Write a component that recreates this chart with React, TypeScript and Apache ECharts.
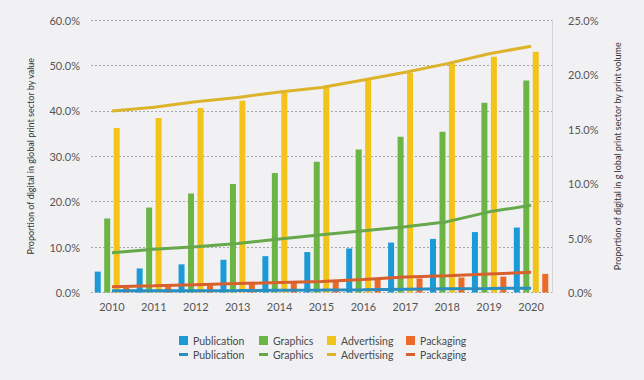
import React, { useEffect, useRef } from "react";
import * as echarts from "echarts";

const years = ["2010", "2011", "2012", "2013", "2014", "2015", "2016", "2017", "2018", "2019", "2020"];

// Share by value (left axis, bars)
const publicationValue = [4.6, 5.3, 6.2, 7.2, 8.0, 8.9, 9.7, 11.0, 11.8, 13.3, 14.3];
const graphicsValue = [16.3, 18.7, 21.8, 23.9, 26.3, 28.8, 31.5, 34.3, 35.4, 41.8, 46.7];
const advertisingValue = [36.2, 38.4, 40.6, 42.2, 44.0, 45.3, 46.8, 48.4, 50.5, 51.9, 53.0];
const packagingValue = [1.1, 1.3, 1.6, 2.0, 2.2, 2.5, 2.8, 3.1, 3.3, 3.5, 4.1];

// Share by print volume (right axis, lines)
const publicationVolume = [0.15, 0.16, 0.17, 0.18, 0.2, 0.22, 0.25, 0.3, 0.35, 0.37, 0.4];
const graphicsVolume = [3.65, 3.96, 4.2, 4.5, 4.9, 5.3, 5.67, 6.04, 6.5, 7.4, 8.0];
const advertisingVolume = [16.65, 17.0, 17.5, 17.9, 18.4, 18.8, 19.5, 20.2, 21.0, 21.9, 22.6];
const packagingVolume = [0.53, 0.62, 0.72, 0.82, 0.92, 1.0, 1.2, 1.42, 1.54, 1.7, 1.85];

const seriesNames = ["Publication", "Graphics", "Advertising", "Packaging"];
const leftAxisName = "Proportion of digital in global print sector by value";
const rightAxisName = "Proportion of digital in g lobal print sector by print volume";

const barColors = ["#1a9ad6", "#6ab545", "#f2c318", "#ea6a2a"];
const lineColors = ["#2a8fc0", "#66a84a", "#dcb32a", "#d8602c"];

const FONT = "Lato";

export default function App() {
  const ref = useRef<HTMLDivElement>(null);
  useEffect(() => {
    if (!ref.current) return;
    const chart = echarts.init(ref.current, undefined, { renderer: "svg" });
    const barData = [publicationValue, graphicsValue, advertisingValue, packagingValue];
    const lineData = [publicationVolume, graphicsVolume, advertisingVolume, packagingVolume];
    const VOL = " (volume)";
    const bars = seriesNames.map((n, i) => ({
      name: n,
      type: "bar",
      yAxisIndex: 0,
      data: barData[i],
      barWidth: 6,
      barGap: "58%",
      itemStyle: { color: barColors[i] },
      z: 2,
    }));
    const lines = seriesNames.map((n, i) => ({
      name: n + VOL,
      type: "line",
      yAxisIndex: 1,
      data: lineData[i],
      symbol: "none",
      lineStyle: { width: 3, color: lineColors[i] },
      itemStyle: { color: lineColors[i] },
      z: 3,
    }));
    const legendText = { fontFamily: FONT, fontSize: 10.5, color: "#4a4a4a" };
    const legendLefts = [179, 259, 327, 406];
    const legends: any[] = [];
    seriesNames.forEach((n, i) => {
      legends.push({
        data: [n],
        left: legendLefts[i],
        top: 335,
        icon: "rect",
        itemWidth: 9,
        itemHeight: 9,
        padding: 0,
        textStyle: legendText,
      });
      legends.push({
        data: [n + VOL],
        left: legendLefts[i],
        top: 349,
        icon: "rect",
        itemWidth: 9,
        itemHeight: 3,
        padding: 0,
        formatter: (name: string) => name.replace(VOL, ""),
        textStyle: legendText,
      });
    });
    chart.setOption({
      animation: false,
      backgroundColor: "#f1f1f3",
      textStyle: { fontFamily: FONT },
      grid: { left: 91, right: 92, top: 20, bottom: 87.5 },
      legend: legends,
      xAxis: {
        type: "category",
        data: years,
        axisLine: { show: false },
        axisTick: { show: false },
        axisLabel: { fontFamily: FONT, fontSize: 11, color: "#555", margin: 8 },
      },
      yAxis: [
        {
          type: "value",
          min: 0,
          max: 60,
          interval: 10,
          position: "left",
          name: leftAxisName,
          nameLocation: "middle",
          nameRotate: 90,
          nameGap: 56,
          nameTextStyle: { fontFamily: FONT, fontSize: 9, color: "#333" },
          axisLine: { show: false },
          axisTick: { show: false },
          axisLabel: {
            fontFamily: FONT,
            fontSize: 11,
            color: "#555",
            margin: 11,
            formatter: (v: number) => v.toFixed(1) + "%",
          },
          splitLine: { show: true, lineStyle: { color: "#a8a8a8", type: [2, 2], width: 1 } },
        },
        {
          type: "value",
          min: 0,
          max: 25,
          interval: 5,
          position: "right",
          name: rightAxisName,
          nameLocation: "middle",
          nameRotate: 90,
          nameGap: 61,
          nameTextStyle: { fontFamily: FONT, fontSize: 9, color: "#333" },
          axisLine: { show: true, lineStyle: { color: "#d4d4d6", width: 1 } },
          axisTick: { show: false },
          axisLabel: {
            fontFamily: FONT,
            fontSize: 11,
            color: "#555",
            margin: 16,
            formatter: (v: number) => v.toFixed(1) + "%",
          },
          splitLine: { show: false },
        },
      ],
      series: [...bars, ...lines],
    });
    return () => chart.dispose();
  }, []);
  return (
    <div
      ref={ref}
      style={{ position: "fixed", left: 0, top: 0, width: 644, height: 380 }}
    />
  );
}
